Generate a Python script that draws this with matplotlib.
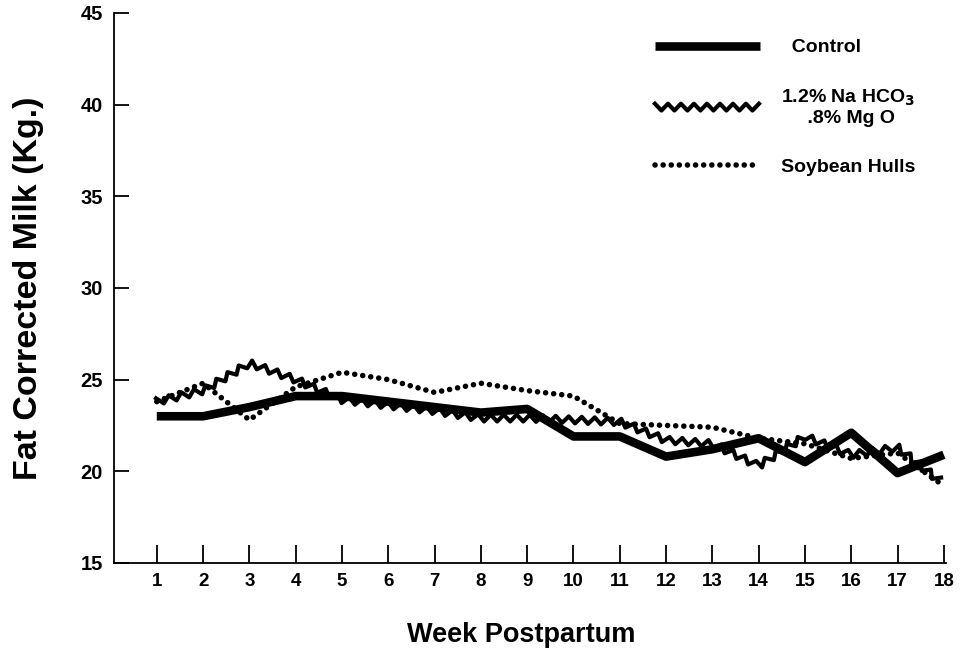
import numpy as np
import matplotlib
matplotlib.use('Agg')
import matplotlib.pyplot as plt
from matplotlib.patheffects import AbstractPathEffect
from matplotlib.path import Path
from matplotlib.transforms import Affine2D

plt.rcParams['font.family'] = ['Liberation Sans', 'DejaVu Sans']
plt.rcParams['font.weight'] = 'bold'

# data (weekly values)
weeks = list(range(1, 19))
control = [23.0, 23.0, 23.5, 24.1, 24.1, 23.8, 23.5, 23.2, 23.4, 21.9,
           21.9, 20.8, 21.2, 21.8, 20.5, 22.1, 19.9, 20.9]
nahco3 = [23.8, 24.4, 25.9, 25.0, 23.9, 23.6, 23.3, 22.9, 22.9, 22.8,
          22.7, 21.7, 21.5, 20.3, 21.9, 20.9, 21.3, 19.3]
soy = [23.8, 24.8, 22.8, 24.6, 25.4, 25.0, 24.3, 24.8, 24.4, 24.1,
       22.6, 22.5, 22.4, 21.8, 21.5, 20.7, 21.0, 19.2]

labels = ['  Control', '1.2% Na HCO$_3$\n .8% Mg O', 'Soybean Hulls']
yticks = [15, 20, 25, 30, 35, 40, 45]


class ZigZag(AbstractPathEffect):
    """draw the line as a jagged zigzag (in display space)"""
    def __init__(self, step=6.0, amp=3.0):
        super().__init__()
        self.step = step
        self.amp = amp

    def draw_path(self, renderer, gc, tpath, affine, rgbFace=None):
        verts = affine.transform(tpath.vertices)
        seg = np.diff(verts, axis=0)
        d = np.r_[0, np.cumsum(np.hypot(seg[:, 0], seg[:, 1]))]
        if d[-1] <= 0:
            return
        s = np.arange(0, d[-1] + 1e-9, self.step)
        x = np.interp(s, d, verts[:, 0])
        y = np.interp(s, d, verts[:, 1])
        dx = np.gradient(x)
        dy = np.gradient(y)
        n = np.hypot(dx, dy)
        n[n == 0] = 1
        sign = np.where(np.arange(len(s)) % 2 == 0, 1.0, -1.0)
        x2 = x - dy / n * self.amp * sign
        y2 = y + dx / n * self.amp * sign
        gc0 = renderer.new_gc()
        gc0.copy_properties(gc)
        renderer.draw_path(gc0, Path(np.c_[x2, y2]), Affine2D(), None)
        gc0.restore()


fig = plt.figure(figsize=(9.64, 6.5), dpi=100)
ax = fig.add_axes([0.118, 0.134, 0.863, 0.846])

ax.plot(weeks, control, color='black', lw=6.2, solid_capstyle='butt',
        label=labels[0])
ax.plot(weeks, nahco3, color='black', lw=3, label=labels[1],
        path_effects=[ZigZag(step=6.5, amp=3.4)])
ax.plot(weeks, soy, color='black', lw=4, linestyle=(0, (0.01, 1.45)),
        dash_capstyle='round', label=labels[2])

ax.set_xlim(0.07, 18.04)
ax.set_ylim(15, 45)
ax.set_xticks(weeks)
ax.set_yticks(yticks)
ax.spines['top'].set_visible(False)
ax.spines['right'].set_visible(False)
ax.spines['left'].set_linewidth(1.3)
ax.spines['bottom'].set_linewidth(1.3)
ax.tick_params(axis='x', direction='in', length=13, width=1.3,
               labelsize=13.5, pad=7)
ax.tick_params(axis='y', direction='in', length=11, width=1.3,
               labelsize=14.5, pad=8)
for t in ax.get_xticklabels() + ax.get_yticklabels():
    t.set_fontweight('bold')

ax.set_xlabel('Week Postpartum', fontsize=19.5, fontweight='bold', labelpad=20)
ax.xaxis.set_label_coords(0.49, -0.108)
ax.set_ylabel('Fat Corrected Milk (Kg.)', fontsize=24.5, fontweight='bold',
              labelpad=26)

leg = ax.legend(loc='upper right', bbox_to_anchor=(0.985, 0.985),
                frameon=False, fontsize=14, handlelength=5.4,
                handletextpad=1.1, labelspacing=1.6)
for t in leg.get_texts():
    t.set_fontweight('bold')
    t.set_multialignment('center')

fig.savefig('out.png', dpi=100)
